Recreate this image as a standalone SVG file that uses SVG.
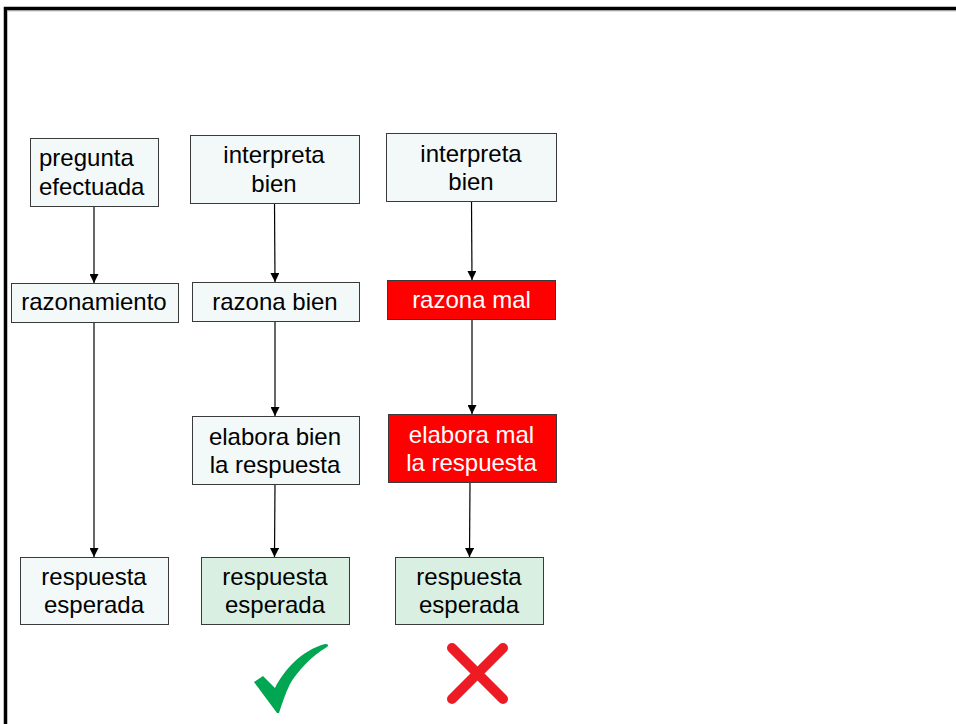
<svg xmlns="http://www.w3.org/2000/svg" width="956" height="724" viewBox="0 0 956 724">
<defs>
<marker id="ah" viewBox="0 0 10 10" refX="10" refY="5" markerWidth="9" markerHeight="9" markerUnits="userSpaceOnUse" orient="auto">
<path d="M0,0 L10,5 L0,10 z" fill="#000"/>
</marker>
<style>
.box{fill:#f3f9f9;stroke:#3a3a3a;stroke-width:1}
.grn{fill:#d9efe2;stroke:#3a3a3a;stroke-width:1}
.red{fill:#ff0000;stroke:#3a3a3a;stroke-width:1}
text{font-family:"Liberation Sans",Arial,sans-serif;font-size:24px;fill:#000}
.c{text-anchor:middle}
.w{fill:#fff}
.cn{stroke:#000;stroke-width:1.2;fill:none;marker-end:url(#ah)}
</style>
</defs>
<rect width="956" height="724" fill="#fff"/>
<path d="M5.5,724 V8.5 H956" fill="none" stroke="#000" stroke-width="3.5"/>
<line x1="7" y1="10.8" x2="956" y2="10.8" stroke="#999" stroke-width="1"/>

<g id="connectors">
<line class="cn" x1="94" y1="207" x2="94" y2="283"/>
<line class="cn" x1="94" y1="322" x2="94" y2="557"/>
<line class="cn" x1="274.5" y1="203" x2="275" y2="282"/>
<line class="cn" x1="275" y1="321" x2="275" y2="416"/>
<line class="cn" x1="275" y1="484" x2="274.5" y2="557"/>
<line class="cn" x1="471.5" y1="201" x2="472" y2="280"/>
<line class="cn" x1="472" y1="319" x2="472" y2="414"/>
<line class="cn" x1="470" y1="482" x2="469.5" y2="557"/>
</g>

<g id="n-pregunta">
<rect class="box" x="30.5" y="138.5" width="128" height="68"/>
<text x="39" y="166">pregunta</text>
<text x="39" y="195">efectuada</text>
</g>
<g id="n-interpreta1">
<rect class="box" x="190.5" y="135.5" width="169" height="68"/>
<text class="c" x="274" y="163">interpreta</text>
<text class="c" x="274" y="192">bien</text>
</g>
<g id="n-interpreta2">
<rect class="box" x="386.5" y="133.5" width="170" height="68"/>
<text class="c" x="471" y="162">interpreta</text>
<text class="c" x="471" y="190">bien</text>
</g>
<g id="n-razonamiento">
<rect class="box" x="11.5" y="283.5" width="167" height="39"/>
<text class="c" x="94" y="310">razonamiento</text>
</g>
<g id="n-razona-bien">
<rect class="box" x="192.5" y="282.5" width="167" height="39"/>
<text class="c" x="275" y="310">razona bien</text>
</g>
<g id="n-razona-mal">
<rect class="red" x="387.5" y="280.5" width="168" height="39"/>
<text class="c w" x="471.5" y="308">razona mal</text>
</g>
<g id="n-elabora-bien">
<rect class="box" x="192.5" y="416.5" width="167" height="68"/>
<text class="c" x="275" y="445">elabora bien</text>
<text class="c" x="275" y="473">la respuesta</text>
</g>
<g id="n-elabora-mal">
<rect class="red" x="388.5" y="414.5" width="168" height="68"/>
<text class="c w" x="471.5" y="443">elabora mal</text>
<text class="c w" x="471.5" y="471">la respuesta</text>
</g>
<g id="n-resp1">
<rect class="box" x="20.5" y="557.5" width="148" height="67"/>
<text class="c" x="94" y="585">respuesta</text>
<text class="c" x="94" y="613">esperada</text>
</g>
<g id="n-resp2">
<rect class="grn" x="201.5" y="557.5" width="148" height="67"/>
<text class="c" x="275" y="585">respuesta</text>
<text class="c" x="275" y="613">esperada</text>
</g>
<g id="n-resp3">
<rect class="grn" x="395.5" y="557.5" width="148" height="67"/>
<text class="c" x="469" y="585">respuesta</text>
<text class="c" x="469" y="613">esperada</text>
</g>

<g id="check">
<path d="M254,682 L263,676 L275,688 C284,670 302,650 325,644 Q330,644 327,647 C311,656 297,672 290,684 C285,694 282,704 279,713 L277,713 Z" fill="#00a651"/>
</g>
<g id="cross">
<path d="M452,648 L503,699 M503,648 L452,699" stroke="#ed1c24" stroke-width="10" stroke-linecap="round"/>
</g>
</svg>
